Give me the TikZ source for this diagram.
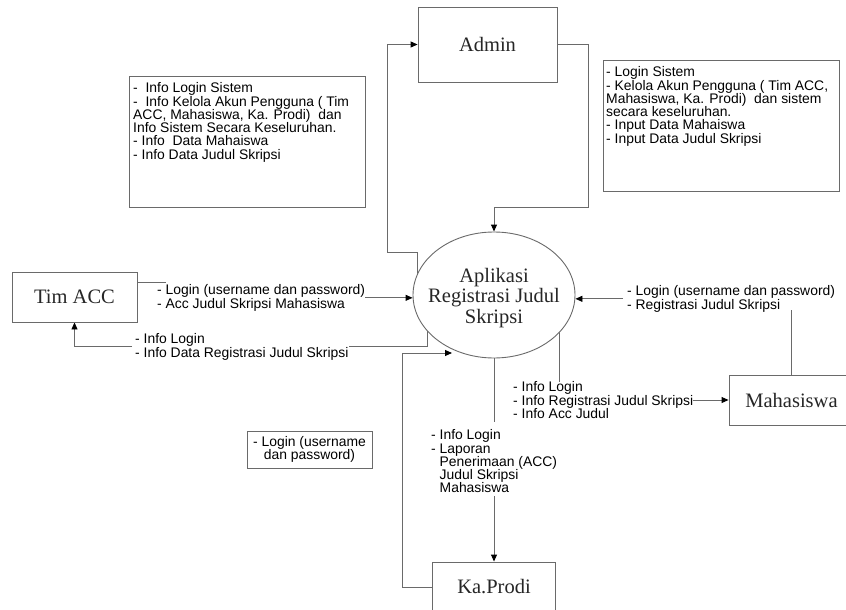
\documentclass[tikz,border=0pt]{standalone}
\usepackage{fontspec}
\setmainfont{Liberation Serif}
\setsansfont{Liberation Sans}
\usetikzlibrary{arrows.meta,backgrounds,shapes.geometric}
\definecolor{lc}{HTML}{6A6A6A}
\definecolor{tc}{HTML}{262626}
\begin{document}
\begin{tikzpicture}[x=1pt,y=-1pt,
  ln/.style={draw=lc, line width=0.9pt},
  arr/.style={ln, -{Triangle[length=7pt,width=6pt,color=black]}},
  ent/.style={draw=lc, line width=0.9pt, fill=white, inner sep=0pt, font=\fontsize{20.5}{20.5}\selectfont, text=tc},
  notebox/.style={draw=lc, line width=0.9pt, inner sep=0pt, anchor=north west},
  lbl/.style={font=\sffamily\fontsize{13.9}{13.3}\selectfont, align=left, inner sep=0pt, text=black, anchor=north west},
]
\useasboundingbox (0,0) rectangle (846,610);
\clip (0,0) rectangle (846,610);

% entities
\node[ent, minimum width=139pt, minimum height=75pt] (admin) at (487.5,44.5) {Admin};
\node[ent, minimum width=125pt, minimum height=50pt] (timacc) at (74.5,297) {Tim ACC};
\node[ent, minimum width=125pt, minimum height=50pt] (mhs) at (791.5,400) {Mahasiswa};
\node[ent, minimum width=123pt, minimum height=50pt] (kaprodi) at (494,587) {Ka.Prodi};
\node[ent, ellipse, minimum width=162pt, minimum height=126pt] (app) at (494,295) {};
\node[font=\fontsize{20.5}{20.2}\selectfont, align=center, inner sep=0pt, text=tc] (apptext) at (494,298) {Aplikasi\\Registrasi Judul\\Skripsi};

% note boxes
\node[notebox, minimum width=236pt, minimum height=131pt] (nl) at (129,76) {};
\node[lbl] (nlt) at (133,82.5) {-\ \ Info Login Sistem\\-\ \ Info Kelola Akun Pengguna ( Tim\\ACC, Mahasiswa, Ka. Prodi)\ \ dan\\Info Sistem Secara Keseluruhan.\\- Info\ \ Data Mahaiswa\\- Info Data Judul Skripsi};
\node[notebox, minimum width=236pt, minimum height=131pt] (nr) at (603,60) {};
\node[lbl] (nrt) at (606,66.5) {- Login Sistem\\- Kelola Akun Pengguna ( Tim ACC,\\Mahasiswa, Ka. Prodi)\ \ dan sistem\\secara keseluruhan.\\- Input Data Mahaiswa\\- Input Data Judul Skripsi};
\node[draw=lc, line width=0.9pt, minimum width=125pt, minimum height=37pt, inner sep=0pt,
      font=\sffamily\fontsize{13.9}{13.3}\selectfont, align=center] (note) at (309.5,449.5) {- Login (username\\dan password)};

% flow labels
\node[lbl] (lA) at (157,284.5) {- Login (username dan password)\\- Acc Judul Skripsi Mahasiswa};
\node[lbl] (lB) at (135,333.5) {- Info Login\\- Info Data Registrasi Judul Skripsi};
\node[lbl] (lC) at (627,285.5) {- Login (username dan password)\\- Registrasi Judul Skripsi};
\node[lbl] (lD) at (513,381.5) {- Info Login\\- Info Registrasi Judul Skripsi\\- Info Acc Judul};
\node[lbl] (lE) at (431,429.5) {- Info Login\\- Laporan\\\hphantom{- }Penerimaan (ACC)\\\hphantom{- }Judul Skripsi\\\hphantom{- }Mahasiswa};

% bend points
\coordinate (b1) at (417,252);
\coordinate (b2) at (387,252);
\coordinate (b3) at (588,207);
\coordinate (b4) at (427,346);
\coordinate (b5) at (132,346);
\coordinate (b6) at (402,353);
\coordinate (t6) at (452,353);
\coordinate (b7) at (494,422);
\coordinate (b8) at (494,496);
\coordinate (b9) at (559,382);
\coordinate (b10) at (791.5,310);

\begin{scope}[on background layer]
  % app -> Admin
  \draw[arr] (app.center -| b1) -- (b1) -- (b2) -- (b2 |- admin.west) -- (admin.west);
  % Admin -> app
  \draw[arr] (admin.east) -- (admin.east -| b3) -- (b3) -- (b3 -| app.north) -- (app.north);
  % Tim ACC -> app
  \draw[ln] ([yshift=15pt]timacc.east) -- ++(29,0);
  \draw[arr] (lA.east) -- (app.west |- lA.east);
  % app -> Tim ACC
  \draw[ln] (app.center -| b4) -- (b4) -- (lB.east |- b4);
  \draw[arr] (b5) -- (b5 -| timacc.south) -- (timacc.south);
  % Ka.Prodi -> app
  \draw[arr] (kaprodi.west) -- (kaprodi.west -| b6) -- (b6) -- (t6);
  % app -> Ka.Prodi
  \draw[ln] (app.south) -- (b7);
  \draw[arr] (b8) -- (kaprodi.north);
  % app -> Mahasiswa
  \draw[ln] (app.center -| b9) -- (b9);
  \draw[arr] (lD.east |- mhs.west) -- (mhs.west);
  % Mahasiswa -> app
  \draw[ln] (mhs.north) -- (b10);
  \draw[arr] ([xshift=-4pt]lC.west) -- (app.east |- lC.west);
\end{scope}
\end{tikzpicture}
\end{document}
